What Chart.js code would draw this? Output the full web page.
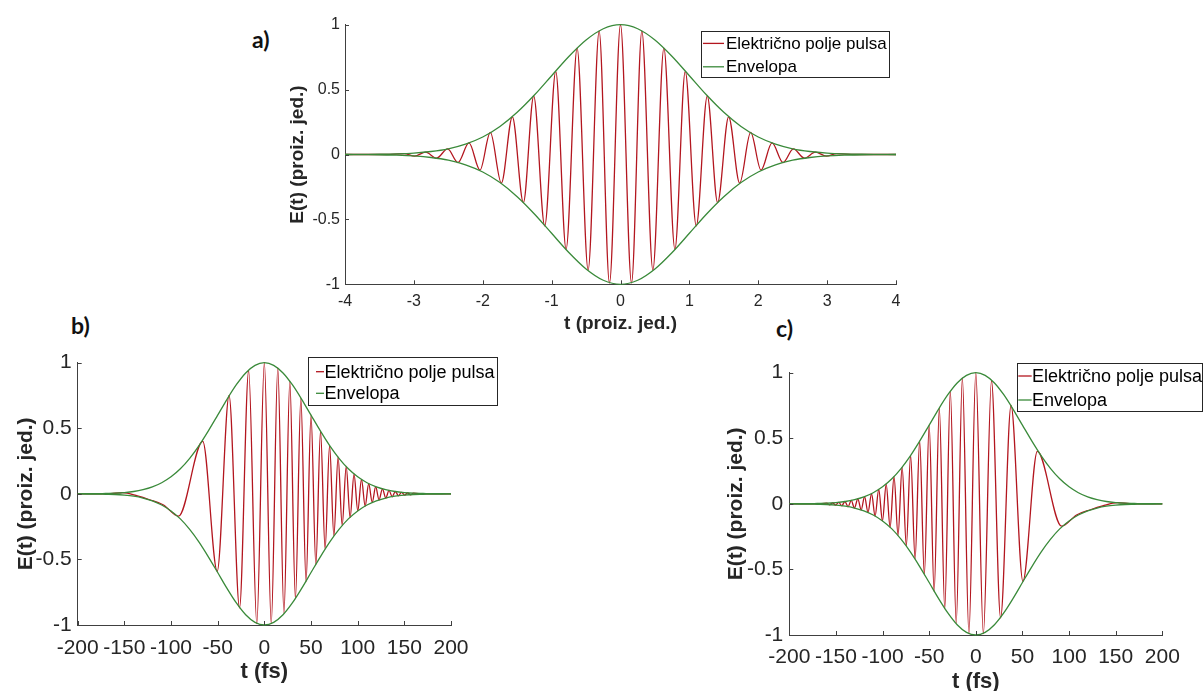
<!DOCTYPE html>
<html>
<head>
<meta charset="utf-8">
<script src="https://cdn.jsdelivr.net/npm/chart.js@4.4.1/dist/chart.umd.min.js"></script>
<style>
  html, body { margin: 0; padding: 0; background: #fff; }
  body { width: 1204px; height: 691px; position: relative; overflow: hidden; }
  canvas { position: absolute; }
  .tag { position: absolute; font-family: Lato, "Open Sans", sans-serif; font-weight: bold; font-size: 23px; line-height: 1; color: #111; }
</style>
</head>
<body>
<div class="tag" style="left:252px; top:28px;">a)</div>
<div class="tag" style="left:71px; top:314px;">b)</div>
<div class="tag" style="left:776px; top:317px;">c)</div>
<canvas id="chartA" width="680" height="340" style="left:250px; top:0px;"></canvas>
<canvas id="chartB" width="520" height="361" style="left:0px; top:330px;"></canvas>
<canvas id="chartC" width="504" height="360" style="left:700px; top:340px;"></canvas>
<script>
// a) pulse in arbitrary units: extrema
const tA = [-4, -3.4, -3.14, -2.99, -2.83, -2.67, -2.51, -2.36, -2.2, -2.04, -1.89, -1.73, -1.57, -1.41, -1.26, -1.1, -0.94, -0.79, -0.63, -0.47, -0.31, -0.16,
            0, 0.16, 0.31, 0.47, 0.63, 0.79, 0.94, 1.1, 1.26, 1.41, 1.57, 1.73, 1.89, 2.04, 2.2, 2.36, 2.51, 2.67, 2.83, 2.99, 3.14, 3.4, 4];
const eA = [0, 0, 0.007, -0.012, 0.018, -0.028, 0.043, -0.062, 0.089, -0.12, 0.17, -0.22, 0.29, -0.37, 0.45, -0.55, 0.64, -0.73, 0.82, -0.89, 0.95, -0.99,
            1, -0.99, 0.95, -0.89, 0.82, -0.73, 0.64, -0.55, 0.45, -0.37, 0.29, -0.22, 0.17, -0.12, 0.089, -0.062, 0.043, -0.028, 0.018, -0.012, 0.007, 0, 0];

const envTA = [-4, -3.75, -3.5, -3.25, -3, -2.75, -2.5, -2.25, -2, -1.75, -1.5, -1.25, -1, -0.75, -0.5, -0.25,
               0, 0.25, 0.5, 0.75, 1, 1.25, 1.5, 1.75, 2, 2.25, 2.5, 2.75, 3, 3.25, 3.5, 3.75, 4];
const envUpA = [0, 0.001, 0.002, 0.005, 0.011, 0.023, 0.044, 0.08, 0.135, 0.216, 0.325, 0.458, 0.607, 0.755, 0.882, 0.969,
                1, 0.969, 0.882, 0.755, 0.607, 0.458, 0.325, 0.216, 0.135, 0.08, 0.044, 0.023, 0.011, 0.005, 0.002, 0.001, 0];
const envLoA = [0, -0.001, -0.002, -0.005, -0.011, -0.023, -0.044, -0.08, -0.135, -0.216, -0.325, -0.458, -0.607, -0.755, -0.882, -0.969,
                -1, -0.969, -0.882, -0.755, -0.607, -0.458, -0.325, -0.216, -0.135, -0.08, -0.044, -0.023, -0.011, -0.005, -0.002, -0.001, 0];

// b) chirped pulse, t in fs
const tB = [-200, -168, -152, -136, -123, -108, -92, -66, -50.5, -37.8, -26.6, -16.8, -8.1, 0,
            7.4, 14.4, 21, 27.3, 33.3, 39.1, 44.7, 50, 55.2, 60.2, 65.1, 69.9, 74.5, 79, 83.4, 87.7, 91.9, 96.1, 100.1, 104.1,
            108, 111.8, 115.6, 119.3, 122.9, 126.5, 130.1, 133.6, 137, 140.4, 143.7, 147, 150.3, 153.5, 156.7, 159.8, 170, 200];
const eB = [0, 0, 0.009, -0.016, -0.045, -0.085, -0.17, 0.4, -0.59, 0.75, -0.87, 0.94, -0.99, 1,
            -0.99, 0.96, -0.91, 0.86, -0.8, 0.73, -0.67, 0.6, -0.54, 0.48, -0.42, 0.37, -0.32, 0.28, -0.24, 0.21, -0.18, 0.15, -0.13, 0.11,
            -0.093, 0.078, -0.065, 0.055, -0.046, 0.038, -0.032, 0.026, -0.022, 0.018, -0.015, 0.012, -0.01, 0.008, -0.007, 0.005, 0, 0];

// c) chirped pulse with the opposite chirp
const tC = [-200, -170, -159.8, -156.7, -153.5, -150.3, -147, -143.7, -140.4, -137, -133.6, -130.1, -126.5, -122.9, -119.3, -115.6, -111.8, -108,
            -104.1, -100.1, -96.1, -91.9, -87.7, -83.4, -79, -74.5, -69.9, -65.1, -60.2, -55.2, -50, -44.7, -39.1, -33.3, -27.3, -21, -14.4, -7.4,
            0, 8.1, 16.8, 26.6, 37.8, 50.5, 66, 92, 108, 123, 136, 152, 168, 200];
const eC = [0, 0, 0.005, -0.007, 0.008, -0.01, 0.012, -0.015, 0.018, -0.022, 0.026, -0.032, 0.038, -0.046, 0.055, -0.065, 0.078, -0.093,
            0.11, -0.13, 0.15, -0.18, 0.21, -0.24, 0.28, -0.32, 0.37, -0.42, 0.48, -0.54, 0.6, -0.67, 0.73, -0.8, 0.86, -0.91, 0.96, -0.99,
            1, -0.99, 0.94, -0.87, 0.75, -0.59, 0.4, -0.17, -0.085, -0.045, -0.016, 0.009, 0, 0];

// envelope for b) and c)
const envTfs = [-200, -190, -180, -170, -160, -150, -140, -130, -120, -110, -100, -90, -80, -70, -60, -50, -40, -30, -20, -10,
                0, 10, 20, 30, 40, 50, 60, 70, 80, 90, 100, 110, 120, 130, 140, 150, 160, 170, 180, 190, 200];
const envUpFs = [0, 0.001, 0.001, 0.003, 0.005, 0.01, 0.018, 0.032, 0.053, 0.085, 0.13, 0.191, 0.271, 0.368, 0.48, 0.6, 0.721, 0.832, 0.922, 0.98,
                 1, 0.98, 0.922, 0.832, 0.721, 0.6, 0.48, 0.368, 0.271, 0.191, 0.13, 0.085, 0.053, 0.032, 0.018, 0.01, 0.005, 0.003, 0.001, 0.001, 0];
const envLoFs = [0, -0.001, -0.001, -0.003, -0.005, -0.01, -0.018, -0.032, -0.053, -0.085, -0.13, -0.191, -0.271, -0.368, -0.48, -0.6, -0.721, -0.832, -0.922, -0.98,
                 -1, -0.98, -0.922, -0.832, -0.721, -0.6, -0.48, -0.368, -0.271, -0.191, -0.13, -0.085, -0.053, -0.032, -0.018, -0.01, -0.005, -0.003, -0.001, -0.001, 0];

const pulseLabel = 'Električno polje pulsa';
const envLabel = 'Envelopa';
const RED = '#b3161f';
const GREEN = '#3a8a3a';
const AXIS = '#404040';

Chart.defaults.font.family = '"Liberation Sans", Arial, Helvetica, sans-serif';
Chart.defaults.color = '#262626';

function pts(xs, ys) {
  return xs.map((x, i) => ({ x: x, y: ys[i] }));
}

// MATLAB style ticks pointing into the plot
const insideTicks = {
  id: 'insideTicks',
  afterDatasetsDraw(chart, args, opts) {
    const ctx = chart.ctx;
    const { left, bottom } = chart.chartArea;
    ctx.save();
    ctx.strokeStyle = AXIS;
    ctx.lineWidth = 1;
    ctx.beginPath();
    chart.scales.x.ticks.forEach(t => {
      const px = Math.round(chart.scales.x.getPixelForValue(t.value)) + 0.5;
      ctx.moveTo(px, bottom);
      ctx.lineTo(px, bottom - opts.len);
    });
    chart.scales.y.ticks.forEach(t => {
      const py = Math.round(chart.scales.y.getPixelForValue(t.value)) + 0.5;
      ctx.moveTo(left, py);
      ctx.lineTo(left + opts.len, py);
    });
    ctx.stroke();
    ctx.restore();
  }
};

// boxed legend sitting in the upper right corner
const boxLegend = {
  id: 'boxLegend',
  afterDraw(chart, args, o) {
    const ctx = chart.ctx;
    ctx.save();
    ctx.fillStyle = '#fff';
    ctx.fillRect(o.x, o.y, o.w, o.h);
    ctx.strokeStyle = '#262626';
    ctx.lineWidth = 1;
    ctx.strokeRect(Math.round(o.x) + 0.5, Math.round(o.y) + 0.5, Math.round(o.w), Math.round(o.h));
    ctx.font = o.size + 'px "Liberation Sans", Arial, sans-serif';
    ctx.textBaseline = 'middle';
    ctx.fillStyle = '#000';
    [0, 1].forEach(i => {
      const ds = chart.data.datasets[i];
      ctx.strokeStyle = ds.borderColor;
      ctx.lineWidth = 1.3;
      ctx.beginPath();
      ctx.moveTo(o.lx[0], o.rows[i]);
      ctx.lineTo(o.lx[1], o.rows[i]);
      ctx.stroke();
      ctx.fillText(ds.label, o.tx, o.rows[i] + 1);
    });
    ctx.restore();
  }
};

function makePlot(id, c) {
  const line = { pointRadius: 0, borderWidth: 1.3, fill: false, cubicInterpolationMode: 'monotone', clip: 4 };
  return new Chart(document.getElementById(id), {
    type: 'line',
    data: {
      datasets: [
        Object.assign({ label: pulseLabel, data: pts(c.t, c.e), borderColor: RED, order: 2 }, line),
        Object.assign({ label: envLabel, data: pts(c.envT, c.envUp), borderColor: GREEN, order: 1 }, line),
        Object.assign({ label: envLabel, data: pts(c.envT, c.envLo), borderColor: GREEN, order: 1 }, line)
      ]
    },
    options: {
      responsive: false,
      animation: false,
      events: [],
      layout: { padding: c.pad },
      plugins: {
        legend: { display: false },
        tooltip: { enabled: false },
        insideTicks: { len: c.tickLen },
        boxLegend: c.legend
      },
      scales: {
        x: {
          type: 'linear',
          min: c.xMin, max: c.xMax,
          afterFit: s => { s.height = c.xH; },
          ticks: { stepSize: c.xStep, autoSkip: false, maxRotation: 0, padding: c.xTickPad, font: { size: c.tickSize },
                   callback: v => String(v) },
          grid: { display: false, drawTicks: false },
          border: { display: true, color: AXIS, width: 1 },
          title: { display: true, text: c.xTitle, padding: { top: 4, bottom: 4 }, font: { size: c.xTitleSize, weight: 'bold' } }
        },
        y: {
          type: 'linear',
          min: -1, max: 1,
          afterFit: s => { s.width = c.yW; },
          ticks: { stepSize: 0.5, autoSkip: false, padding: c.yTickPad, font: { size: c.tickSize },
                   callback: v => String(v) },
          grid: { display: false, drawTicks: false },
          border: { display: true, color: AXIS, width: 1 },
          title: { display: true, text: 'E(t) (proiz. jed.)', padding: { top: 4, bottom: 4 }, font: { size: c.yTitleSize, weight: 'bold' } }
        }
      }
    },
    plugins: [insideTicks, boxLegend]
  });
}

makePlot('chartA', {
  t: tA, e: eA, envT: envTA, envUp: envUpA, envLo: envLoA,
  xMin: -4, xMax: 4, xStep: 1, xTitle: 't (proiz. jed.)',
  pad: { left: 32.6, top: 24.7, right: 34, bottom: 0.6 },
  yW: 62.4, xH: 55.1, tickSize: 16, xTitleSize: 19, yTitleSize: 19,
  xTickPad: 8, yTickPad: 5, tickLen: 4,
  legend: { x: 451, y: 30.7, w: 188, h: 46, rows: [43.4, 66.8], lx: [453, 474], tx: 476, size: 17 }
});

makePlot('chartB', {
  t: tB, e: eB, envT: envTfs, envUp: envUpFs, envLo: envLoFs,
  xMin: -200, xMax: 200, xStep: 50, xTitle: 't (fs)',
  pad: { left: 10.1, top: 32.7, right: 69, bottom: 1.8 },
  yW: 67.6, xH: 64.2, tickSize: 21, xTitleSize: 22, yTitleSize: 21,
  xTickPad: 10.4, yTickPad: 6, tickLen: 4,
  legend: { x: 308.3, y: 27.3, w: 189, h: 48, rows: [41.7, 63.3], lx: [316, 324], tx: 324.5, size: 18 }
});

makePlot('chartC', {
  t: tC, e: eC, envT: envTfs, envUp: envUpFs, envLo: envLoFs,
  xMin: -200, xMax: 200, xStep: 50, xTitle: 't (fs)',
  pad: { left: 20.1, top: 32.7, right: 41.7, bottom: 0.8 },
  yW: 69.2, xH: 64.2, tickSize: 21, xTitleSize: 22, yTitleSize: 21,
  xTickPad: 10, yTickPad: 6, tickLen: 4,
  legend: { x: 317.3, y: 23.3, w: 185, h: 48, rows: [36, 60], lx: [318.3, 331.7], tx: 332, size: 18 }
});
</script>
</body>
</html>
